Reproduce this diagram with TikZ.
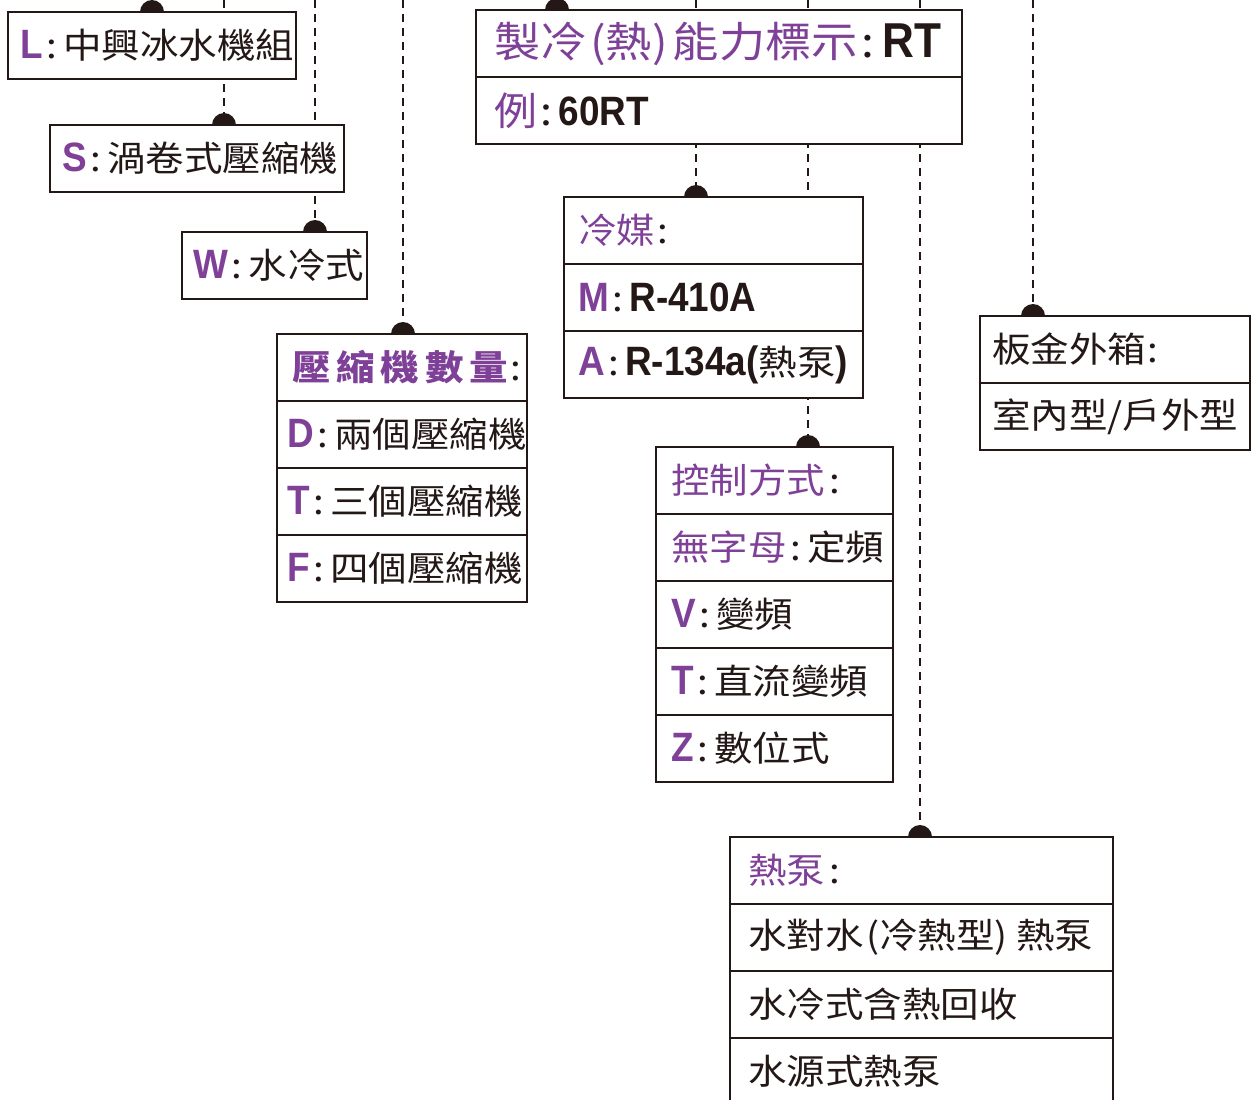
\documentclass[tikz,border=0pt]{standalone}
\usepackage{fontspec}
\setmainfont{Noto Sans CJK TC}[FakeStretch=1.1]
\newfontfamily\latfont{Liberation Sans}[FakeStretch=0.9]
\usetikzlibrary{positioning,backgrounds}
\definecolor{ink}{HTML}{231815}
\definecolor{plum}{HTML}{7F4098}
\newcommand\key[1]{{\fontsize{41pt}{44pt}\latfont\bfseries\color{plum}#1}}
\newcommand\val[1]{{\fontsize{41pt}{44pt}\latfont\bfseries #1}}
\newcommand\hd[1]{{\color{plum}#1}}
\newcommand\cc{\kern4pt:\kern6pt}
\newcommand\knob[1]{\fill[ink] (#1) ++(-12pt,0) arc[start angle=180,end angle=0,radius=12pt] -- cycle;}
\tikzset{
  cell/.style={draw=ink, line width=1.3pt, fill=white, outer sep=0pt,
    inner xsep=12pt, inner ysep=0pt, minimum height=67pt, text width=#1,
    align=left, text=ink, font=\fontsize{35pt}{42pt}\selectfont, anchor=north west},
  link/.style={draw=ink, line width=1.3pt, dash pattern=on 8pt off 6pt}
}
\begin{document}
\begin{tikzpicture}[x=1pt,y=-1pt]
\useasboundingbox (0,0) rectangle (1259,1100);
% tops of the dashed leaders
\coordinate (tL) at (152,0);
\coordinate (tS) at (224,0);
\coordinate (tW) at (315,0);
\coordinate (tComp) at (403,0);
\coordinate (tCap) at (557,0);
\coordinate (tRef) at (696,0);
\coordinate (tCtl) at (808,0);
\coordinate (tHp) at (920,0);
\coordinate (tCase) at (1033,0);

% unit type
\node[cell=264pt] (L1) at (8,12) {\key{L}\cc 中興冰水機組};
\node[cell=270pt] (S1) at (50,125) {\key{S}\cc 渦卷式壓縮機};
\node[cell=163pt,inner xsep=11pt] (W1) at (182,232) {\key{W}\cc 水冷式};

% compressors
\node[cell=230pt,inner xsep=10pt] (comp1) at (277,334) {\hspace*{5pt}\hd{\bfseries 壓\kern6pt 縮\kern6pt 機\kern6pt 數\kern6pt 量}\kern2pt:};
\node[cell=230pt,inner xsep=10pt,below=0pt of comp1] (comp2) {\key{D}\cc 兩個壓縮機};
\node[cell=230pt,inner xsep=10pt,below=0pt of comp2] (comp3) {\key{T}\cc 三個壓縮機};
\node[cell=230pt,inner xsep=10pt,below=0pt of comp3] (comp4) {\key{F}\cc 四個壓縮機};

% capacity
\node[cell=450pt,inner xsep=18pt,font=\fontsize{42pt}{44pt}\selectfont] (cap1) at (476,10) {\hd{製冷\kern4pt(熱)\kern5pt 能力標示}\kern4pt:\kern8pt{\fontsize{49pt}{49pt}\latfont\bfseries RT}};
\node[cell=450pt,inner xsep=18pt,font=\fontsize{39pt}{44pt}\selectfont,below=0pt of cap1] (cap2) {\hd{例}\cc\val{60RT}};

% refrigerant
\node[cell=271pt,inner xsep=14pt] (ref1) at (564,197) {\hd{冷媒}\kern2pt:};
\node[cell=271pt,inner xsep=14pt,below=0pt of ref1] (ref2) {\key{M}\cc\val{R-410A}};
\node[cell=271pt,inner xsep=14pt,below=0pt of ref2] (ref3) {\key{A}\cc\val{R-134a(}熱泵\val{)}};

% control
\node[cell=207pt,inner xsep=15pt] (ctl1) at (656,447) {\hd{控制方式}\kern4pt:};
\node[cell=207pt,inner xsep=15pt,below=0pt of ctl1] (ctl2) {\hd{無字母}\cc 定頻};
\node[cell=207pt,inner xsep=15pt,below=0pt of ctl2] (ctl3) {\key{V}\cc 變頻};
\node[cell=207pt,inner xsep=15pt,below=0pt of ctl3] (ctl4) {\key{T}\cc 直流變頻};
\node[cell=207pt,inner xsep=15pt,below=0pt of ctl4] (ctl5) {\key{Z}\cc 數位式};

% heat pump
\node[cell=347pt,inner xsep=18pt] (hp1) at (730,837) {\hd{熱泵}\kern4pt:};
\node[cell=347pt,inner xsep=18pt,below=0pt of hp1] (hp2) {水對水\kern3pt(冷熱型)\kern8pt 熱泵};
\node[cell=347pt,inner xsep=18pt,below=0pt of hp2] (hp3) {水冷式含熱回收};
\node[cell=347pt,inner xsep=18pt,below=0pt of hp3] (hp4) {水源式熱泵};

% casing
\node[cell=246pt] (case1) at (980,316) {板金外箱\kern2pt:};
\node[cell=246pt,below=0pt of case1] (case2) {室內型/戶外型};

\begin{scope}[on background layer]
\foreach \t/\b in {tL/L1,tS/S1,tW/W1,tComp/comp1,tCap/cap1,tRef/ref1,tCtl/ctl1,tHp/hp1,tCase/case1}
  {\draw[link] (\t) -- (\t |- \b.north);}
\end{scope}
\foreach \t/\b in {tL/L1,tS/S1,tW/W1,tComp/comp1,tCap/cap1,tRef/ref1,tCtl/ctl1,tHp/hp1,tCase/case1}
  {\knob{\t |- \b.north}}
\end{tikzpicture}
\end{document}
